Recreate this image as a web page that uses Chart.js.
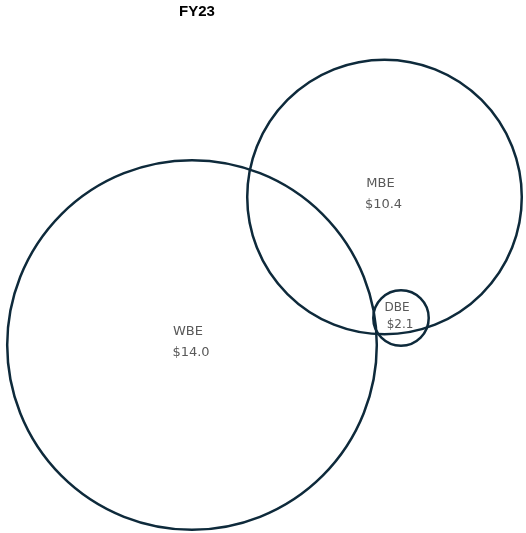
<!DOCTYPE html>
<html>
<head>
<meta charset="utf-8">
<script src="https://cdn.jsdelivr.net/npm/chart.js@4"></script>
<style>
html,body{margin:0;padding:0;background:#fff;}
#wrap{width:526px;height:533px;position:relative;}
</style>
</head>
<body>
<div id="wrap"><canvas id="c" width="526" height="533"></canvas></div>
<script>
const title = 'FY23';
const categories = ['WBE', 'MBE', 'DBE'];
const values = [14.0, 10.4, 2.1];
const valueLabels = ['$14.0', '$10.4', '$2.1'];
const xValues = [192, 384.5, 401];
const yValues = [345, 197, 318];

const RADIUS_PER_UNIT = 13.2;
const LINE_COLOR = '#0e2a3b';

const points = categories.map((c, i) => ({
  x: xValues[i], y: yValues[i], r: values[i] * RADIUS_PER_UNIT
}));

const labelPlugin = {
  id: 'vennLabels',
  afterDatasetsDraw(chart) {
    const ctx = chart.ctx;
    const meta = chart.getDatasetMeta(0);
    ctx.save();
    ctx.fillStyle = '#595959';
    ctx.textAlign = 'center';
    ctx.textBaseline = 'middle';
    meta.data.forEach((el, i) => {
      const small = values[i] < 5;
      ctx.font = (small ? '12px' : '13px') + ' "DejaVu Sans", sans-serif';
      const up = small ? -10 : -13;
      const down = small ? 7 : 8;
      ctx.fillText(categories[i], el.x - 4, el.y + up);
      ctx.fillText(valueLabels[i], el.x - 1, el.y + down);
    });
    ctx.restore();
  }
};

const titlePlugin = {
  id: 'topTitle',
  afterDraw(chart) {
    const ctx = chart.ctx;
    ctx.save();
    ctx.fillStyle = '#000';
    ctx.font = 'bold 15px "Liberation Sans", Arial, sans-serif';
    ctx.textAlign = 'center';
    ctx.textBaseline = 'alphabetic';
    ctx.fillText(title, 197, 16);
    ctx.restore();
  }
};

new Chart(document.getElementById('c'), {
  type: 'bubble',
  data: {
    datasets: [{
      label: 'FY23',
      data: points,
      backgroundColor: 'rgba(0,0,0,0)',
      borderColor: LINE_COLOR,
      borderWidth: 2.5,
      hoverBorderWidth: 2.5,
      hoverRadius: 0,
      clip: false
    }]
  },
  options: {
    responsive: false,
    animation: false,
    events: [],
    layout: { padding: 0, autoPadding: false },
    plugins: {
      legend: { display: false },
      title: { display: false },
      tooltip: { enabled: false }
    },
    scales: {
      x: { type: 'linear', min: 0, max: 526, display: false },
      y: { type: 'linear', min: 0, max: 533, reverse: true, display: false }
    }
  },
  plugins: [labelPlugin, titlePlugin]
});
</script>
</body>
</html>
